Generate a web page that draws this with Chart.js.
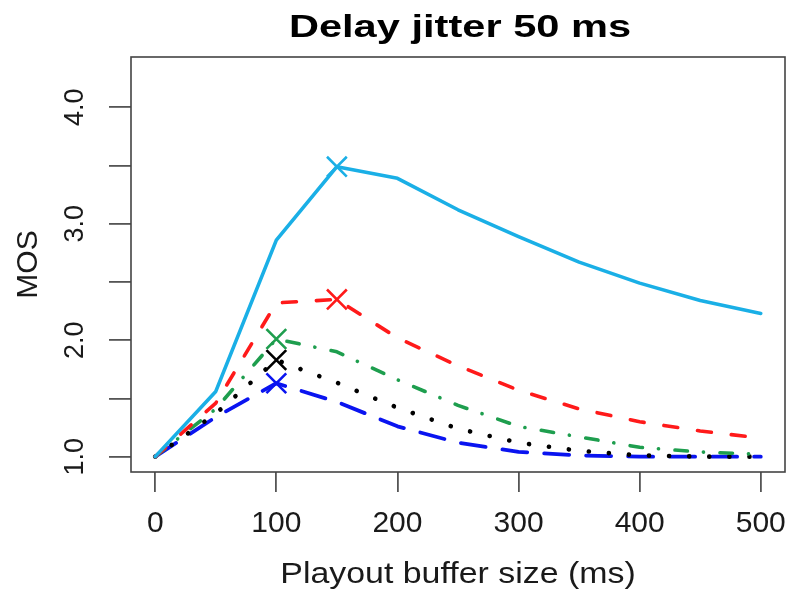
<!DOCTYPE html>
<html>
<head>
<meta charset="utf-8">
<script src="https://cdn.jsdelivr.net/npm/chart.js@4.4.1/dist/chart.umd.min.js"></script>
<style>
  html, body { margin: 0; padding: 0; background: #ffffff; }
  #wrap { width: 794px; height: 592px; }
</style>
</head>
<body>
<div id="wrap"><canvas id="grafico" width="794" height="592"></canvas></div>
<script>
// Playout buffer sizes (ms) on the x axis
const bufferSizes = [0, 50, 100, 150, 200, 250, 300, 350, 400, 450, 500];

// MOS values, one array per curve
const mosCyan  = [1.00, 1.56, 2.86, 3.49, 3.39, 3.12, 2.89, 2.67, 2.49, 2.34, 2.23];
const mosRed   = [1.00, 1.46, 2.32, 2.35, 2.02, 1.78, 1.57, 1.41, 1.30, 1.22, 1.16];
const mosGreen = [1.00, 1.41, 2.01, 1.90, 1.66, 1.44, 1.26, 1.17, 1.08, 1.04, 1.02];
const mosBlack = [1.00, 1.37, 1.83, 1.635, 1.42, 1.24, 1.12, 1.05, 1.01, 1.00, 1.00];
const mosBlue  = [1.00, 1.34, 1.63, 1.47, 1.26, 1.12, 1.04, 1.01, 1.00, 1.00, 1.00];

// maximum of each curve, marked with an X
const peakBuffer = [150, 150, 100, 100, 100];
const peakMos    = [3.49, 2.35, 2.01, 1.83, 1.63];

// ticks
const xTickValues = [0, 100, 200, 300, 400, 500];
const yTickValues = [1.0, 1.5, 2.0, 2.5, 3.0, 3.5, 4.0];
const yTickLabels = ['1.0', '', '2.0', '', '3.0', '', '4.0'];

const titleText = 'Delay jitter 50 ms';
const xTitleText = 'Playout buffer size (ms)';
const yTitleText = 'MOS';

const cores = ['#1AAFE6', '#FF1A1A', '#1E9E4E', '#000000', '#0A14F0'];
const larguras = [3.6, 3.6, 3.6, 4.6, 3.8];
const tracos = [[], [14, 20], [12.5, 16, 0.1, 16.5], [0.1, 20], [25, 17]];
const series = [mosCyan, mosRed, mosGreen, mosBlack, mosBlue];

const fonte = '"Liberation Sans", Arial, Helvetica, sans-serif';

// build the datasets from the arrays above
const datasets = series.map(function(valores, i) {
  return {
    type: 'line',
    data: bufferSizes.map((b, j) => ({ x: b, y: valores[j] })),
    borderColor: cores[i],
    borderWidth: larguras[i],
    borderDash: tracos[i],
    borderCapStyle: 'round',
    borderJoinStyle: 'round',
    pointRadius: 0,
    tension: 0,
    fill: false
  };
});

peakBuffer.forEach(function(b, i) {
  datasets.push({
    type: 'scatter',
    data: [{ x: b, y: peakMos[i] }],
    pointStyle: 'crossRot',
    pointRadius: 14,
    pointBorderWidth: 2.6,
    borderColor: cores[i],
    backgroundColor: cores[i]
  });
});

// texts, rotated y labels and the box, R style
const desenhoR = {
  id: 'desenhoR',
  afterDraw(chart) {
    const ctx = chart.ctx;
    const area = chart.chartArea;
    const yScale = chart.scales.y;

    ctx.save();
    ctx.strokeStyle = '#444444';
    ctx.lineWidth = 1.6;
    ctx.strokeRect(area.left, area.top, area.right - area.left, area.bottom - area.top);

    ctx.fillStyle = '#000000';
    ctx.textAlign = 'center';
    ctx.textBaseline = 'alphabetic';

    // main title
    ctx.save();
    ctx.font = 'bold 32px ' + fonte;
    ctx.translate(460, 37);
    ctx.scale(1.3, 1);
    ctx.fillText(titleText, 0, 0);
    ctx.restore();

    // x axis title
    ctx.save();
    ctx.fillStyle = '#1a1a1a';
    ctx.font = '30px ' + fonte;
    ctx.translate(458, 583);
    ctx.scale(1.13, 1);
    ctx.fillText(xTitleText, 0, 0);
    ctx.restore();

    // y axis title
    ctx.save();
    ctx.fillStyle = '#1a1a1a';
    ctx.font = '30px ' + fonte;
    ctx.translate(37, (area.top + area.bottom) / 2);
    ctx.rotate(-Math.PI / 2);
    ctx.fillText(yTitleText, 0, 0);
    ctx.restore();

    // y tick labels, parallel to the axis
    ctx.font = '27px ' + fonte;
    ctx.fillStyle = '#1a1a1a';
    yTickValues.forEach(function(v, i) {
      if (!yTickLabels[i]) return;
      ctx.save();
      ctx.translate(83, yScale.getPixelForValue(v));
      ctx.rotate(-Math.PI / 2);
      ctx.fillText(yTickLabels[i], 0, 0);
      ctx.restore();
    });
    ctx.restore();
  }
};

new Chart(document.getElementById('grafico'), {
  data: { datasets: datasets },
  options: {
    responsive: false,
    animation: false,
    devicePixelRatio: 1,
    layout: {
      autoPadding: false,
      padding: { top: 57, right: 9, left: 0, bottom: 0 }
    },
    plugins: {
      legend: { display: false },
      title: { display: false },
      tooltip: { enabled: false }
    },
    scales: {
      x: {
        type: 'linear',
        min: -20,
        max: 520,
        afterBuildTicks: function(scale) {
          scale.ticks = xTickValues.map(v => ({ value: v }));
        },
        afterFit: function(scale) {
          scale.height = 120;
          scale.paddingLeft = 0;
          scale.paddingRight = 0;
        },
        border: { display: false },
        grid: {
          drawOnChartArea: false,
          drawTicks: true,
          tickLength: 20,
          color: '#555555',
          lineWidth: 1.8
        },
        ticks: {
          autoSkip: false,
          maxRotation: 0,
          padding: 14,
          color: '#1a1a1a',
          font: { family: fonte, size: 30 },
          callback: v => String(v)
        }
      },
      y: {
        type: 'linear',
        min: 0.868,
        max: 4.432,
        afterBuildTicks: function(scale) {
          scale.ticks = yTickValues.map(v => ({ value: v }));
        },
        afterFit: function(scale) {
          scale.width = 131;
          scale.paddingTop = 0;
          scale.paddingBottom = 0;
        },
        border: { display: false },
        grid: {
          drawOnChartArea: false,
          drawTicks: true,
          tickLength: 22,
          color: '#555555',
          lineWidth: 1.8
        },
        ticks: { display: false }
      }
    }
  },
  plugins: [desenhoR]
});
</script>
</body>
</html>
